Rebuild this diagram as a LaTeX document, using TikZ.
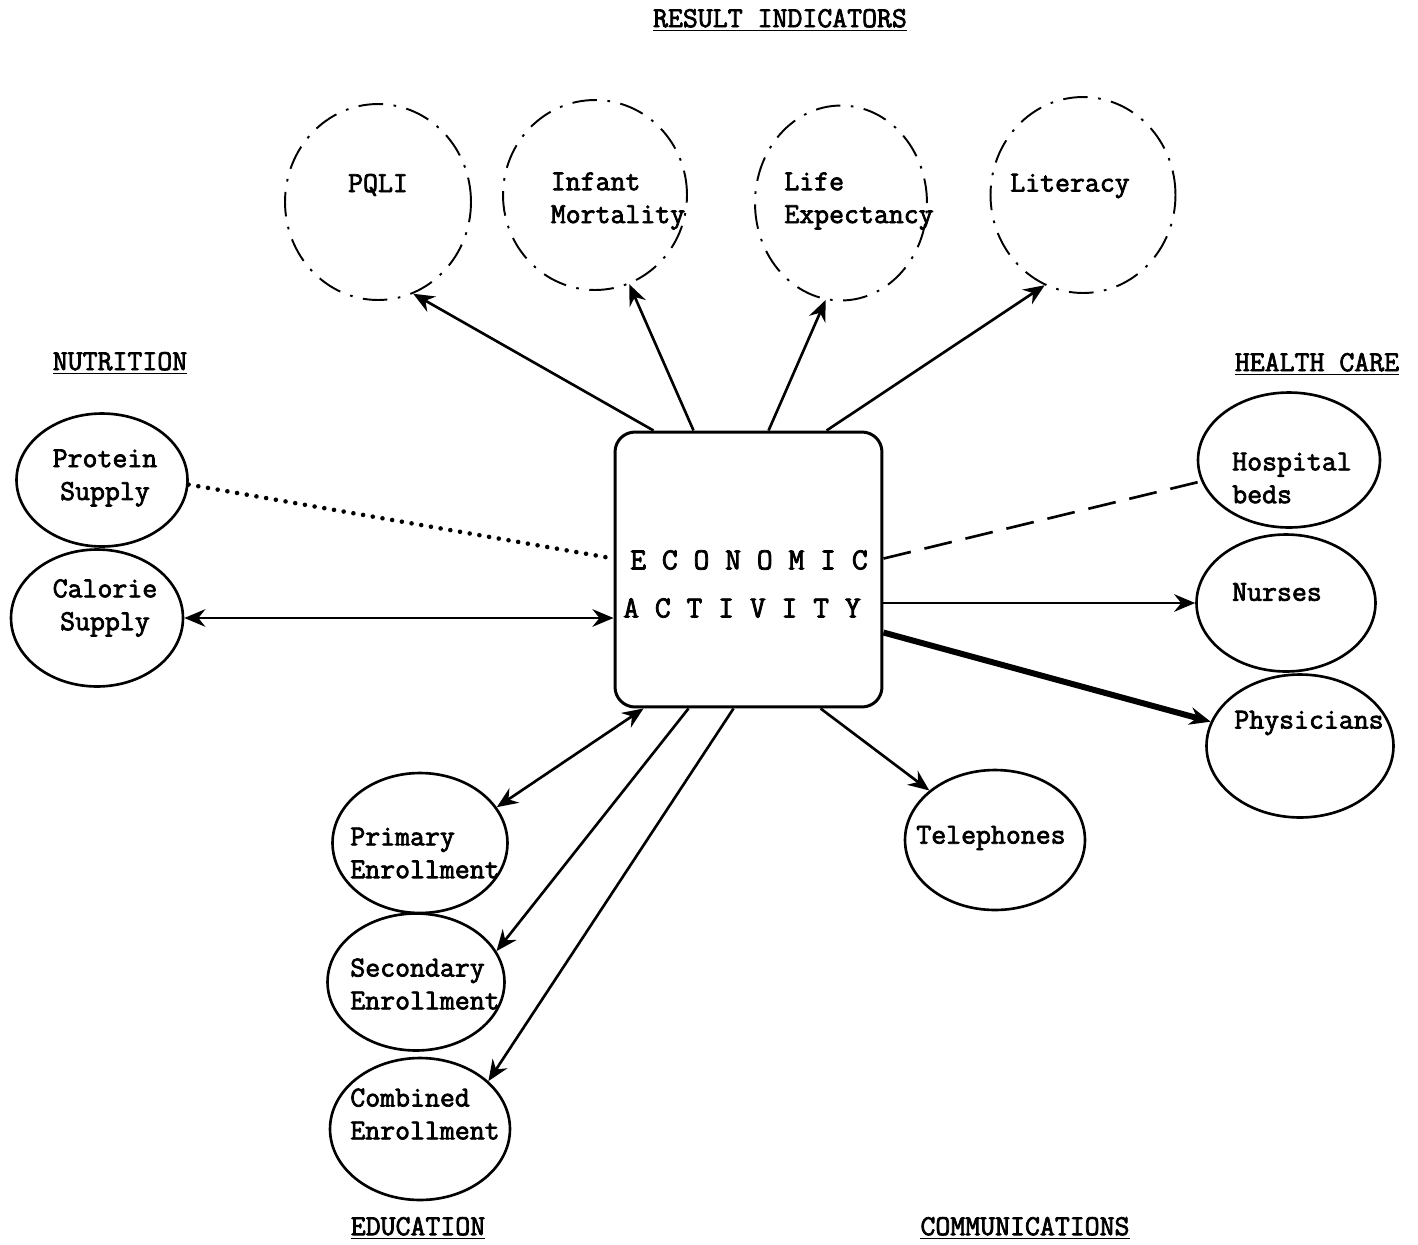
\documentclass[tikz,border=0pt]{standalone}
\usepackage{fontspec}
\setmonofont{Latin Modern Mono}[BoldFont={Latin Modern Mono}, BoldFeatures={FakeBold=2.5}]
\usetikzlibrary{shapes.geometric, arrows.meta, calc}

\begin{document}
\begin{tikzpicture}[x=0.02cm, y=-0.02cm, line width=1.5pt,
    >={Stealth[length=12pt,width=10pt,inset=4pt]},
    every node/.style={font=\fontsize{16.5pt}{18.7pt}\selectfont\ttfamily\bfseries},
    bubble/.style 2 args={ellipse, draw, minimum width=#1cm, minimum height=#2cm, inner sep=0pt},
    result/.style={line width=1.1pt, dash pattern=on 14pt off 6pt on 1.5pt off 6pt},
    txt/.style={align=left, inner sep=0pt},
    head/.style={inner sep=0pt},
    dotline/.style={line width=2.6pt, line cap=round, dash pattern=on 0pt off 5.6pt},
    dashline/.style={dash pattern=on 16pt off 8pt}]
  \useasboundingbox (0,0) rectangle (1418,1245);

  % headings
  \node[head] at (780,20) {\underline{RESULT INDICATORS}};
  \node[head] at (120,363) {\underline{NUTRITION}};
  \node[head] at (1317,364) {\underline{HEALTH CARE}};
  \node[head] at (418,1228) {\underline{EDUCATION}};
  \node[head] at (1025,1228) {\underline{COMMUNICATIONS}};

  % centre box
  \node[draw, rounded corners=0.4cm, line width=1.7pt, minimum width=5.34cm, minimum height=5.5cm] (eco) at (748.5,569.5) {};
  \node[txt, font=\fontsize{17.5pt}{18.7pt}\selectfont\ttfamily\bfseries] at (749,560) {E C O N O M I C};
  \node[txt, font=\fontsize{17.5pt}{18.7pt}\selectfont\ttfamily\bfseries] at (742,608) {A C T I V I T Y};

  % result indicators
  \node[bubble={3.72}{3.92}, result] (pqli) at (378,202) {};
  \node[bubble={3.68}{3.8}, result] (infant) at (595,195) {};
  \node[bubble={3.44}{3.9}, result] (life) at (841,203) {};
  \node[bubble={3.7}{3.92}, result] (literacy) at (1083,195) {};
  \node[txt] at (378,185) {PQLI};
  \node[txt] at (618,201) {Infant\\Mortality};
  \node[txt] at (859,201) {Life\\Expectancy};
  \node[txt] at (1070,186) {Literacy};

  % nutrition
  \node[bubble={3.42}{2.66}] (protein) at (102,480) {};
  \node[bubble={3.44}{2.74}] (calorie) at (97,618) {};
  \node[txt, align=center] at (105,478) {Protein\\Supply};
  \node[txt, align=center] at (105,608) {Calorie\\Supply};

  % health care
  \node[bubble={3.64}{2.7}] (hospital) at (1289,460) {};
  \node[bubble={3.58}{2.74}] (nurses) at (1286,603) {};
  \node[bubble={3.74}{2.86}] (phys) at (1300,746) {};
  \node[txt] at (1292,478) {Hospital\\beds};
  \node[txt] at (1277,592) {Nurses};
  \node[txt] at (1309,723) {Physicians};

  % communications
  \node[bubble={3.6}{2.8}] (tel) at (995,840) {};
  \node[txt] at (991,838) {Telephones};

  % education
  \node[bubble={3.5}{2.8}] (primary) at (420,843) {};
  \node[bubble={3.54}{2.74}] (secondary) at (416,982) {};
  \node[bubble={3.6}{2.84}] (combined) at (420,1129) {};
  \node[txt] at (425,853) {Primary\\Enrollment};
  \node[txt] at (425,984) {Secondary\\Enrollment};
  \node[txt] at (425,1114) {Combined\\Enrollment};

  % links
  \draw[->] ($(eco.north west)+(40,0)$) -- (pqli.-69);
  \draw[->] ($(eco.north west)+(80,0)$) -- (infant.-69);
  \draw[->] ($(eco.north west)+(155,0)$) -- (life.-99);
  \draw[->] ($(eco.north west)+(213,0)$) -- (literacy.-113);
  \draw[dotline] (protein.-3) -- ($(eco.north west)+(0,128)$);
  \draw[<->] (calorie) -- (calorie -| eco.west);
  \draw[dashline] ($(eco.north east)+(0,128)$) -- (hospital);
  \draw[->] (eco.east |- nurses) -- (nurses);
  \draw[->, line width=3.4pt] ($(eco.north east)+(0,202)$) -- (phys);
  \draw[->] ($(eco.south west)+(207,0)$) -- (tel);
  \draw[<->] ($(eco.south west)+(30,0)$) -- (primary.25);
  \draw[->] ($(eco.south west)+(75,0)$) -- (secondary.21);
  \draw[->] ($(eco.south west)+(120,0)$) -- (combined.35);
\end{tikzpicture}
\end{document}
